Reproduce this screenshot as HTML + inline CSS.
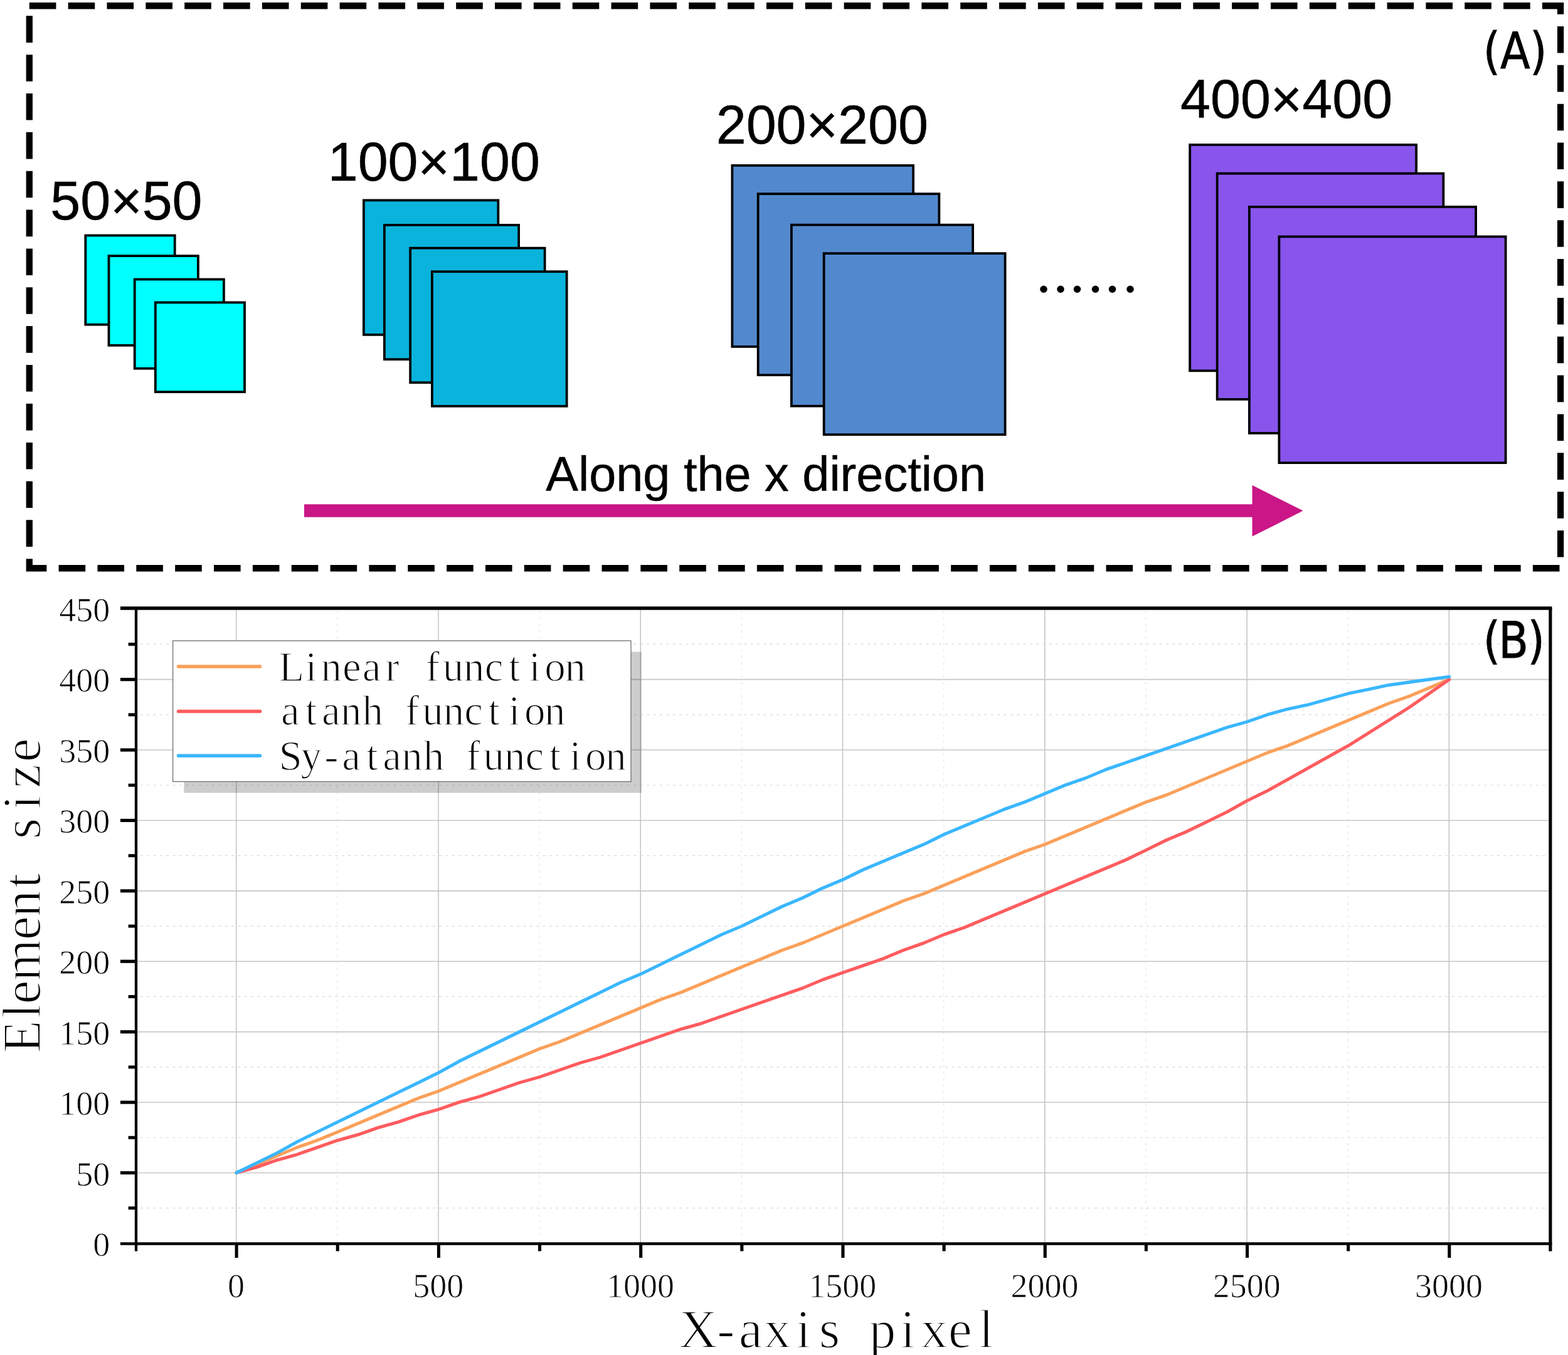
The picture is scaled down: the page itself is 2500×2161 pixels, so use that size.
<!DOCTYPE html>
<html lang="en">
<head>
<meta charset="utf-8">
<title>Element size along the x direction</title>
<style>
html,body{margin:0;padding:0;background:#fff;}
body{width:2500px;height:2161px;overflow:hidden;}
svg{display:block;}
text{white-space:pre;}
</style>
</head>
<body>
<svg width="2500" height="2161" viewBox="0 0 2500 2161">
<rect x="0" y="0" width="2500" height="2161" fill="#fff"/>
<rect x="46.8" y="9.25" width="2441.30" height="897.00" fill="none" stroke="#000" stroke-width="10.3" stroke-dasharray="42.6 19.25"/>
<rect x="136.30" y="375.50" width="142.40" height="142.20" fill="#00FFFF" stroke="#000" stroke-width="3.8"/>
<rect x="173.50" y="408.10" width="142.40" height="142.70" fill="#00FFFF" stroke="#000" stroke-width="3.8"/>
<rect x="214.70" y="445.50" width="142.20" height="142.20" fill="#00FFFF" stroke="#000" stroke-width="3.8"/>
<rect x="247.80" y="482.40" width="142.20" height="142.70" fill="#00FFFF" stroke="#000" stroke-width="3.8"/>
<rect x="579.90" y="319.40" width="214.45" height="214.45" fill="#0AB3DB" stroke="#000" stroke-width="3.8"/>
<rect x="612.90" y="358.90" width="214.20" height="214.20" fill="#0AB3DB" stroke="#000" stroke-width="3.8"/>
<rect x="654.15" y="395.65" width="214.45" height="214.45" fill="#0AB3DB" stroke="#000" stroke-width="3.8"/>
<rect x="688.90" y="433.15" width="214.70" height="214.65" fill="#0AB3DB" stroke="#000" stroke-width="3.8"/>
<rect x="1167.40" y="263.90" width="288.70" height="288.95" fill="#5289CE" stroke="#000" stroke-width="3.8"/>
<rect x="1208.65" y="309.15" width="288.70" height="288.95" fill="#5289CE" stroke="#000" stroke-width="3.8"/>
<rect x="1261.90" y="358.65" width="289.20" height="288.95" fill="#5289CE" stroke="#000" stroke-width="3.8"/>
<rect x="1313.65" y="404.15" width="288.95" height="288.95" fill="#5289CE" stroke="#000" stroke-width="3.8"/>
<rect x="1897.15" y="230.90" width="360.95" height="360.40" fill="#8854EC" stroke="#000" stroke-width="3.8"/>
<rect x="1940.65" y="276.65" width="360.70" height="360.20" fill="#8854EC" stroke="#000" stroke-width="3.8"/>
<rect x="1991.90" y="329.90" width="361.20" height="360.95" fill="#8854EC" stroke="#000" stroke-width="3.8"/>
<rect x="2039.40" y="377.40" width="361.20" height="360.70" fill="#8854EC" stroke="#000" stroke-width="3.8"/>
<text x="80.34" y="349.9" font-family="'Liberation Sans', sans-serif" font-size="86.25" text-anchor="start" fill="#000" stroke="#000" stroke-width="0.5" >50×50</text>
<text x="522.7" y="288.25" font-family="'Liberation Sans', sans-serif" font-size="86.25" text-anchor="start" fill="#000" stroke="#000" stroke-width="0.5" >100×100</text>
<text x="1141.68" y="229.3" font-family="'Liberation Sans', sans-serif" font-size="86.25" text-anchor="start" fill="#000" stroke="#000" stroke-width="0.5" >200×200</text>
<text x="1881.98" y="187.8" font-family="'Liberation Sans', sans-serif" font-size="86.25" text-anchor="start" fill="#000" stroke="#000" stroke-width="0.5" >400×400</text>
<text x="870.35" y="783.1" font-family="'Liberation Sans', sans-serif" font-size="77.44" text-anchor="start" fill="#000" stroke="#000" stroke-width="0.5" >Along the x direction</text>
<text x="1651.75 1678.65 1705.35 1734.25 1761.15 1789.85" y="466.0" font-family="'Liberation Serif', serif" font-size="98" fill="#000">......</text>
<path d="M485 804.2 H1996.5 V773.8 L2077.6 814.6 L1996.5 855.6 V824.7 H485 Z" fill="#CA1686"/>
<text transform="translate(0 108.5) scale(0.868 1)" x="2724.32 2755.81 2810.10" y="0" font-family="'DejaVu Sans', sans-serif" font-size="80.25" fill="#000" stroke="#000" stroke-width="0.9">(A)</text>
<g><line x1="376.70" y1="970.00" x2="376.70" y2="1983.50" stroke="#c2c2c2" stroke-width="1.5"/><line x1="698.98" y1="970.00" x2="698.98" y2="1983.50" stroke="#c2c2c2" stroke-width="1.5"/><line x1="1021.27" y1="970.00" x2="1021.27" y2="1983.50" stroke="#c2c2c2" stroke-width="1.5"/><line x1="1343.55" y1="970.00" x2="1343.55" y2="1983.50" stroke="#c2c2c2" stroke-width="1.5"/><line x1="1665.83" y1="970.00" x2="1665.83" y2="1983.50" stroke="#c2c2c2" stroke-width="1.5"/><line x1="1988.12" y1="970.00" x2="1988.12" y2="1983.50" stroke="#c2c2c2" stroke-width="1.5"/><line x1="2310.40" y1="970.00" x2="2310.40" y2="1983.50" stroke="#c2c2c2" stroke-width="1.5"/><line x1="537.84" y1="974.00" x2="537.84" y2="1983.50" stroke="#e2e2e2" stroke-width="1.2" stroke-dasharray="3.2 7.15"/><line x1="860.12" y1="974.00" x2="860.12" y2="1983.50" stroke="#e2e2e2" stroke-width="1.2" stroke-dasharray="3.2 7.15"/><line x1="1182.41" y1="974.00" x2="1182.41" y2="1983.50" stroke="#e2e2e2" stroke-width="1.2" stroke-dasharray="3.2 7.15"/><line x1="1504.69" y1="974.00" x2="1504.69" y2="1983.50" stroke="#e2e2e2" stroke-width="1.2" stroke-dasharray="3.2 7.15"/><line x1="1826.98" y1="974.00" x2="1826.98" y2="1983.50" stroke="#e2e2e2" stroke-width="1.2" stroke-dasharray="3.2 7.15"/><line x1="2149.26" y1="974.00" x2="2149.26" y2="1983.50" stroke="#e2e2e2" stroke-width="1.2" stroke-dasharray="3.2 7.15"/><line x1="217.00" y1="1870.45" x2="2471.90" y2="1870.45" stroke="#c6c6c6" stroke-width="1.6"/><line x1="217.00" y1="1758.05" x2="2471.90" y2="1758.05" stroke="#c6c6c6" stroke-width="1.6"/><line x1="217.00" y1="1645.65" x2="2471.90" y2="1645.65" stroke="#c6c6c6" stroke-width="1.6"/><line x1="217.00" y1="1533.25" x2="2471.90" y2="1533.25" stroke="#c6c6c6" stroke-width="1.6"/><line x1="217.00" y1="1420.85" x2="2471.90" y2="1420.85" stroke="#c6c6c6" stroke-width="1.6"/><line x1="217.00" y1="1308.45" x2="2471.90" y2="1308.45" stroke="#c6c6c6" stroke-width="1.6"/><line x1="217.00" y1="1196.05" x2="2471.90" y2="1196.05" stroke="#c6c6c6" stroke-width="1.6"/><line x1="217.00" y1="1083.65" x2="2471.90" y2="1083.65" stroke="#c6c6c6" stroke-width="1.6"/><line x1="224.00" y1="1926.65" x2="2471.90" y2="1926.65" stroke="#d6d6d6" stroke-width="1.2" stroke-dasharray="3.8 6.55"/><line x1="224.00" y1="1814.25" x2="2471.90" y2="1814.25" stroke="#d6d6d6" stroke-width="1.2" stroke-dasharray="3.8 6.55"/><line x1="224.00" y1="1701.85" x2="2471.90" y2="1701.85" stroke="#d6d6d6" stroke-width="1.2" stroke-dasharray="3.8 6.55"/><line x1="224.00" y1="1589.45" x2="2471.90" y2="1589.45" stroke="#d6d6d6" stroke-width="1.2" stroke-dasharray="3.8 6.55"/><line x1="224.00" y1="1477.05" x2="2471.90" y2="1477.05" stroke="#d6d6d6" stroke-width="1.2" stroke-dasharray="3.8 6.55"/><line x1="224.00" y1="1364.65" x2="2471.90" y2="1364.65" stroke="#d6d6d6" stroke-width="1.2" stroke-dasharray="3.8 6.55"/><line x1="224.00" y1="1252.25" x2="2471.90" y2="1252.25" stroke="#d6d6d6" stroke-width="1.2" stroke-dasharray="3.8 6.55"/><line x1="224.00" y1="1139.85" x2="2471.90" y2="1139.85" stroke="#d6d6d6" stroke-width="1.2" stroke-dasharray="3.8 6.55"/><line x1="224.00" y1="1027.45" x2="2471.90" y2="1027.45" stroke="#d6d6d6" stroke-width="1.2" stroke-dasharray="3.8 6.55"/></g>
<polyline points="377.0,1870.4 409.2,1857.0 441.5,1843.5 473.7,1830.0 505.9,1818.7 538.1,1805.3 570.4,1791.8 602.6,1778.3 634.8,1764.8 667.1,1751.3 699.3,1740.1 731.5,1726.6 763.7,1713.1 796.0,1699.6 828.2,1686.1 860.4,1672.6 892.7,1661.4 924.9,1647.9 957.1,1634.4 989.3,1620.9 1021.6,1607.4 1053.8,1593.9 1086.0,1582.7 1118.3,1569.2 1150.5,1555.7 1182.7,1542.2 1214.9,1528.8 1247.2,1515.3 1279.4,1504.0 1311.6,1490.5 1343.9,1477.0 1376.1,1463.6 1408.3,1450.1 1440.5,1436.6 1472.8,1425.3 1505.0,1411.9 1537.2,1398.4 1569.4,1384.9 1601.7,1371.4 1633.9,1357.9 1666.1,1346.7 1698.4,1333.2 1730.6,1319.7 1762.8,1306.2 1795.0,1292.7 1827.3,1279.2 1859.5,1268.0 1891.7,1254.5 1924.0,1241.0 1956.2,1227.5 1988.4,1214.0 2020.6,1200.5 2052.9,1189.3 2085.1,1175.8 2117.3,1162.3 2149.6,1148.8 2181.8,1135.4 2214.0,1121.9 2246.2,1110.6 2278.5,1097.1 2310.7,1083.6" fill="none" stroke="#FAA05A" stroke-width="5.1" stroke-linejoin="round" stroke-linecap="round"/>
<polyline points="377.0,1870.4 409.2,1861.5 441.5,1850.2 473.7,1841.2 505.9,1830.0 538.1,1818.7 570.4,1809.8 602.6,1798.5 634.8,1789.5 667.1,1778.3 699.3,1769.3 731.5,1758.0 763.7,1749.1 796.0,1737.8 828.2,1726.6 860.4,1717.6 892.7,1706.3 924.9,1695.1 957.1,1686.1 989.3,1674.9 1021.6,1663.6 1053.8,1652.4 1086.0,1641.2 1118.3,1632.2 1150.5,1620.9 1182.7,1609.7 1214.9,1598.4 1247.2,1587.2 1279.4,1576.0 1311.6,1562.5 1343.9,1551.2 1376.1,1540.0 1408.3,1528.8 1440.5,1515.3 1472.8,1504.0 1505.0,1490.5 1537.2,1479.3 1569.4,1465.8 1601.7,1452.3 1633.9,1438.8 1666.1,1425.3 1698.4,1411.9 1730.6,1398.4 1762.8,1384.9 1795.0,1371.4 1827.3,1355.7 1859.5,1339.9 1891.7,1326.4 1924.0,1310.7 1956.2,1295.0 1988.4,1277.0 2020.6,1261.2 2052.9,1243.3 2085.1,1225.3 2117.3,1207.3 2149.6,1189.3 2181.8,1169.1 2214.0,1148.8 2246.2,1128.6 2278.5,1106.1 2310.7,1083.6" fill="none" stroke="#FF5C5F" stroke-width="5.1" stroke-linejoin="round" stroke-linecap="round"/>
<polyline points="377.0,1870.4 409.2,1854.7 441.5,1839.0 473.7,1821.0 505.9,1805.3 538.1,1789.5 570.4,1773.8 602.6,1758.0 634.8,1742.3 667.1,1726.6 699.3,1710.8 731.5,1692.9 763.7,1677.1 796.0,1661.4 828.2,1645.6 860.4,1629.9 892.7,1614.2 924.9,1598.4 957.1,1582.7 989.3,1567.0 1021.6,1553.5 1053.8,1537.7 1086.0,1522.0 1118.3,1506.3 1150.5,1490.5 1182.7,1477.0 1214.9,1461.3 1247.2,1445.6 1279.4,1432.1 1311.6,1416.4 1343.9,1402.9 1376.1,1387.1 1408.3,1373.6 1440.5,1360.2 1472.8,1346.7 1505.0,1330.9 1537.2,1317.4 1569.4,1304.0 1601.7,1290.5 1633.9,1279.2 1666.1,1265.7 1698.4,1252.2 1730.6,1241.0 1762.8,1227.5 1795.0,1216.3 1827.3,1205.0 1859.5,1193.8 1891.7,1182.6 1924.0,1171.3 1956.2,1160.1 1988.4,1151.1 2020.6,1139.8 2052.9,1130.9 2085.1,1124.1 2117.3,1115.1 2149.6,1106.1 2181.8,1099.4 2214.0,1092.6 2246.2,1088.1 2278.5,1083.6 2310.7,1079.2" fill="none" stroke="#3AB7FF" stroke-width="5.1" stroke-linejoin="round" stroke-linecap="round"/>
<g stroke="#000" stroke-width="5.0" fill="none">
<line x1="191.9" y1="970.00" x2="2474.40" y2="970.00" stroke-width="5.5"/>
<line x1="191.9" y1="1983.50" x2="2474.40" y2="1983.50" stroke-width="4.6"/>
<line x1="217.00" y1="970.00" x2="217.00" y2="1995.4" stroke-width="4.3"/>
<line x1="2471.90" y1="970.00" x2="2471.90" y2="1995.4" stroke-width="5.1"/>
<line x1="191.9" y1="1870.45" x2="217.00" y2="1870.45" stroke-width="5.2"/>
<line x1="191.9" y1="1758.05" x2="217.00" y2="1758.05" stroke-width="5.2"/>
<line x1="191.9" y1="1645.65" x2="217.00" y2="1645.65" stroke-width="5.2"/>
<line x1="191.9" y1="1533.25" x2="217.00" y2="1533.25" stroke-width="5.2"/>
<line x1="191.9" y1="1420.85" x2="217.00" y2="1420.85" stroke-width="5.2"/>
<line x1="191.9" y1="1308.45" x2="217.00" y2="1308.45" stroke-width="5.2"/>
<line x1="191.9" y1="1196.05" x2="217.00" y2="1196.05" stroke-width="5.2"/>
<line x1="191.9" y1="1083.65" x2="217.00" y2="1083.65" stroke-width="5.2"/>
<line x1="204.6" y1="1926.65" x2="217.00" y2="1926.65" stroke-width="5"/>
<line x1="204.6" y1="1814.25" x2="217.00" y2="1814.25" stroke-width="5"/>
<line x1="204.6" y1="1701.85" x2="217.00" y2="1701.85" stroke-width="5"/>
<line x1="204.6" y1="1589.45" x2="217.00" y2="1589.45" stroke-width="5"/>
<line x1="204.6" y1="1477.05" x2="217.00" y2="1477.05" stroke-width="5"/>
<line x1="204.6" y1="1364.65" x2="217.00" y2="1364.65" stroke-width="5"/>
<line x1="204.6" y1="1252.25" x2="217.00" y2="1252.25" stroke-width="5"/>
<line x1="204.6" y1="1139.85" x2="217.00" y2="1139.85" stroke-width="5"/>
<line x1="204.6" y1="1027.45" x2="217.00" y2="1027.45" stroke-width="5"/>
<line x1="377.10" y1="1983.50" x2="377.10" y2="2006" stroke-width="5.1"/>
<line x1="699.38" y1="1983.50" x2="699.38" y2="2006" stroke-width="5.1"/>
<line x1="1021.67" y1="1983.50" x2="1021.67" y2="2006" stroke-width="5.1"/>
<line x1="1343.95" y1="1983.50" x2="1343.95" y2="2006" stroke-width="5.1"/>
<line x1="1666.23" y1="1983.50" x2="1666.23" y2="2006" stroke-width="5.1"/>
<line x1="1988.52" y1="1983.50" x2="1988.52" y2="2006" stroke-width="5.1"/>
<line x1="2310.80" y1="1983.50" x2="2310.80" y2="2006" stroke-width="5.1"/>
<line x1="538.24" y1="1983.50" x2="538.24" y2="1995.4" stroke-width="5.1"/>
<line x1="860.52" y1="1983.50" x2="860.52" y2="1995.4" stroke-width="5.1"/>
<line x1="1182.81" y1="1983.50" x2="1182.81" y2="1995.4" stroke-width="5.1"/>
<line x1="1505.09" y1="1983.50" x2="1505.09" y2="1995.4" stroke-width="5.1"/>
<line x1="1827.38" y1="1983.50" x2="1827.38" y2="1995.4" stroke-width="5.1"/>
<line x1="2149.66" y1="1983.50" x2="2149.66" y2="1995.4" stroke-width="5.1"/>
</g>
<g font-family="'Liberation Serif', serif" font-size="54" fill="#000" stroke="#fff" stroke-width="0.85">
<text x="175.2" y="2003.40" text-anchor="end">0</text>
<text x="175.2" y="1890.88" text-anchor="end">50</text>
<text x="175.2" y="1778.35" text-anchor="end">100</text>
<text x="175.2" y="1665.83" text-anchor="end">150</text>
<text x="175.2" y="1553.30" text-anchor="end">200</text>
<text x="175.2" y="1440.78" text-anchor="end">250</text>
<text x="175.2" y="1328.25" text-anchor="end">300</text>
<text x="175.2" y="1215.72" text-anchor="end">350</text>
<text x="175.2" y="1103.20" text-anchor="end">400</text>
<text x="175.2" y="990.68" text-anchor="end">450</text>
<text x="376.40" y="2068.9" text-anchor="middle">0</text>
<text x="698.68" y="2068.9" text-anchor="middle">500</text>
<text x="1020.97" y="2068.9" text-anchor="middle">1000</text>
<text x="1343.25" y="2068.9" text-anchor="middle">1500</text>
<text x="1665.53" y="2068.9" text-anchor="middle">2000</text>
<text x="1987.82" y="2068.9" text-anchor="middle">2500</text>
<text x="2310.10" y="2068.9" text-anchor="middle">3000</text>
</g>
<text x="1082.19 1142.92 1177.79 1218.09 1269.04 1305.78 1364.34 1385.49 1435.60 1467.93 1511.65 1560.61" y="2148.75" font-family="'Liberation Serif', serif" font-size="85.9" fill="#000" stroke="#fff" stroke-width="1.89" >X-axis pixel</text>
<g transform="translate(64 1425.3) rotate(-90)">
<text x="-254.35 -199.31 -176.28 -139.50 -73.95 -37.34 8.72 62.46 87.18 133.72 168.36 209.77" y="0" font-family="'Liberation Serif', serif" font-size="85.9" fill="#000" stroke="#fff" stroke-width="1.89" >Element size</text>
</g>
<rect x="293.3" y="1039.5" width="729.5" height="225" fill="#000" fill-opacity="0.195"/>
<rect x="275.6" y="1021.9" width="730.4" height="224.6" fill="#fff" stroke="#6e6e6e" stroke-width="1.3"/>
<line x1="284.5" y1="1062.9" x2="414.5" y2="1062.9" stroke="#FAA05A" stroke-width="5.5" stroke-linecap="round"/>
<line x1="284.5" y1="1134.6" x2="414.5" y2="1134.6" stroke="#FF5C5F" stroke-width="5.5" stroke-linecap="round"/>
<line x1="284.5" y1="1205.2" x2="414.5" y2="1205.2" stroke="#3AB7FF" stroke-width="5.5" stroke-linecap="round"/>
<text x="444.29 486.74 511.51 545.92 577.76 614.22 658.16 678.39 705.63 739.12 772.69 810.78 843.25 868.28 900.43" y="1086.25" font-family="'Liberation Serif', serif" font-size="67" fill="#000" stroke="#fff" stroke-width="1.47" >Linear function</text>
<text x="448.12 486.68 512.94 543.06 577.57 625.75 645.98 673.22 706.71 740.28 778.37 810.84 835.88 868.02" y="1156.25" font-family="'Liberation Serif', serif" font-size="67" fill="#000" stroke="#fff" stroke-width="1.47" >atanh function</text>
<text x="444.51 479.48 517.34 545.35 583.91 610.17 640.29 674.80 722.98 743.21 770.45 803.94 837.51 875.60 908.07 933.11 965.25" y="1228" font-family="'Liberation Serif', serif" font-size="67" fill="#000" stroke="#fff" stroke-width="1.47" >Sy-atanh function</text>
<text transform="translate(0 1049) scale(0.868 1)" x="2724.32 2752.63 2806.18" y="0" font-family="'DejaVu Sans', sans-serif" font-size="80.25" fill="#000" stroke="#000" stroke-width="0.9">(B)</text>
</svg>
</body>
</html>
